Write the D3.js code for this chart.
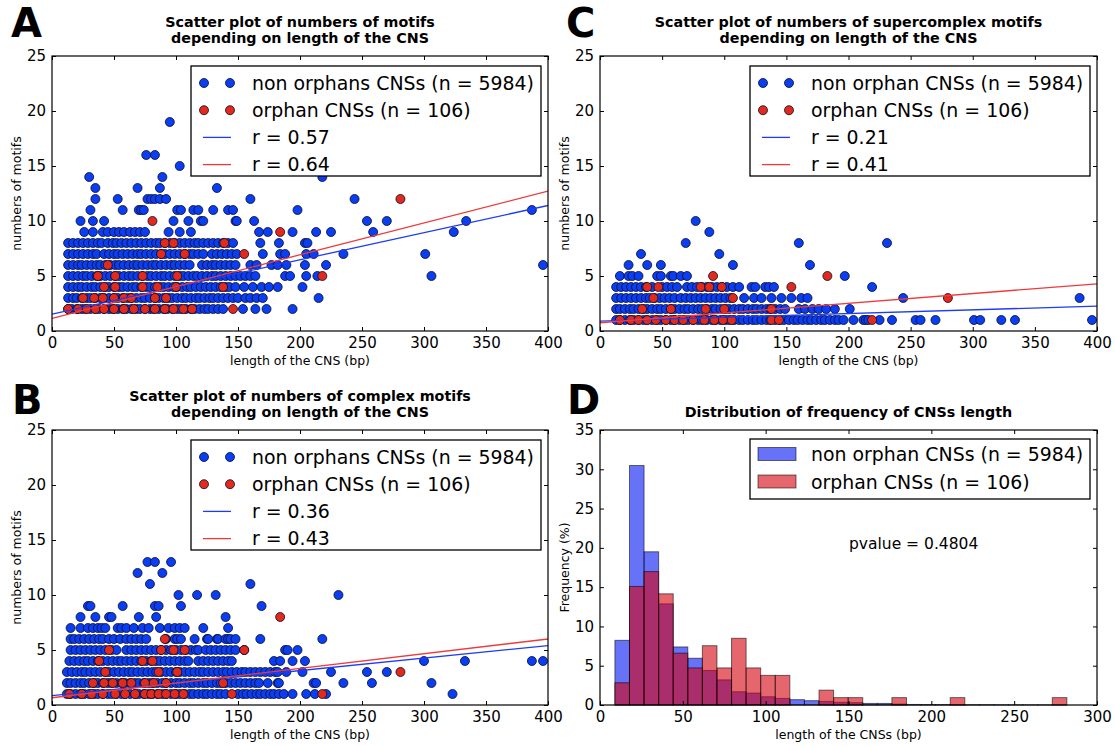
<!DOCTYPE html>
<html><head><meta charset="utf-8">
<script src="https://cdn.jsdelivr.net/npm/d3@7"></script>
<style>
body{margin:0;background:#fff}
svg{display:block}
text{font-family:"DejaVu Sans",sans-serif;fill:#000}
</style></head>
<body><svg id="c" width="1115" height="747"></svg>
<script>
// ---------------- DATA ----------------
// scatter rows: [numberOfMotifs, [lengths...]]
const aBlue = [
 [2,[13,16,20,24,27,31,35,38,42,46,49,53,57,60,64,68,71,75,79,82,86,90,93,97,101,104,108,112,115,119,123,126,130,134,138,154,164,173,194]],
 [3,[13,17,20,24,28,31,35,39,42,46,50,53,57,61,64,68,72,75,79,83,86,90,94,97,101,105,108,112,116,119,123,127,130,134,138,142,146,150,156,160,165,170,215]],
 [4,[13,17,21,24,28,32,35,39,43,46,50,54,57,61,65,68,72,76,79,83,87,90,94,98,101,105,109,112,116,120,124,128,132,136,140,143,148,155,162,169,175,182,202]],
 [5,[13,17,21,25,28,32,36,39,43,47,51,54,58,62,65,69,73,77,80,84,88,91,95,99,103,106,110,114,117,121,125,129,132,136,140,144,148,152,156,160,164,188,192,205,214,306]],
 [6,[13,17,21,24,28,32,36,39,43,47,51,54,58,62,66,69,73,77,81,84,88,92,96,99,103,107,111,121,125,129,132,136,140,144,148,160,165,177,182,189,204,221,396]],
 [7,[13,17,21,25,29,33,36,42,46,50,53,57,61,65,69,72,76,80,84,88,91,95,99,103,107,111,114,118,122,129,133,137,141,145,149,170,184,188,205,211,235,301]],
 [8,[13,17,21,25,29,33,37,40,45,49,52,56,60,64,68,72,76,80,84,87,91,95,99,103,107,111,115,118,122,126,130,134,138,142,146,168,183,204,206]],
 [9,[26,33,41,45,50,54,58,63,67,71,75,94,103,112,167,174,194,213,225,259,324]],
 [10,[23,33,42,98,110,120,122,148,149,163,254,270,334]],
 [11,[31,57,70,72,74,101,104,114,118,130,142,146,198,387]],
 [12,[35,53,77,80,83,87,92,160,244]],
 [13,[35,69,87,133]],
 [14,[30,89,218]],
 [15,[103]],
 [16,[76,83]],
 [19,[95]]
];
const aRed = [
 [2,[13,21,28,35,42,50,58,66,75,83,91,98,106,113,146]],
 [3,[25,34,41,50,58,64,83,92]],
 [4,[42,51,73,85,100,138]],
 [5,[37,51,73,101,218]],
 [6,[45]],
 [7,[88,107,155]],
 [8,[91,98,139]],
 [9,[184]],
 [10,[81]],
 [12,[281]]
];
const bBlue = [
 [1,[12,15,19,23,26,30,34,37,41,45,48,52,56,59,63,67,70,74,78,81,85,89,92,96,100,103,107,111,114,118,122,125,129,133,136,140,150,154,157,161,165,168,172,176,179,183,187,194,205,212,221,323]],
 [2,[12,15,19,23,26,30,34,37,41,45,48,52,56,59,63,67,70,74,78,81,85,89,92,96,100,103,107,111,114,118,122,125,129,133,136,140,144,148,152,156,160,164,167,174,182,183,211,213,235,258,306]],
 [3,[12,16,20,24,27,31,35,39,43,46,50,54,58,62,65,69,73,77,81,84,88,92,96,100,103,107,111,115,119,122,126,130,134,138,141,145,149,153,156,160,164,168,172,176,180,182,189,202,225,254,270]],
 [4,[14,18,22,26,29,33,37,41,45,49,53,56,60,64,68,72,76,80,84,87,91,95,99,103,107,110,118,122,126,130,134,138,142,145,179,184,194,204,300,333,387,396]],
 [5,[15,19,23,27,31,35,39,43,48,52,60,64,68,72,76,80,84,88,92,96,100,104,108,112,116,118,124,128,132,136,140,144,148,155,188,190,198]],
 [6,[15,18,22,26,30,34,38,41,46,50,55,60,64,68,72,76,92,99,101,104,115,125,126,133,134,140,142,144,148,168,218]],
 [7,[15,23,29,33,37,40,43,53,56,60,66,73,78,87,94,99,103,107,122,142]],
 [8,[23,35,46,48,70,84,140]],
 [9,[29,31,57,83,86,104,169]],
 [10,[102,117,132,231]],
 [11,[79,160]],
 [12,[69,89]],
 [13,[77,83,96]]
];
const bRed = [
 [1,[14,24,32,41,51,59,67,75,80,86,92,99,106,145,218]],
 [2,[33,42,49,57,64,75,82,92,138]],
 [3,[43,86,101,281]],
 [4,[38,73,81]],
 [5,[46,88,98,107,155]],
 [6,[91]],
 [8,[184]]
];
const cBlue = [
 [1,[13,16,20,24,27,31,35,38,42,46,49,53,57,60,64,68,71,75,79,82,86,90,93,97,101,104,108,112,115,119,123,126,130,134,137,141,145,148,152,156,159,163,167,170,174,178,181,185,189,192,196,204,212,214,216,225,235,254,258,270,301,306,323,334,396]],
 [2,[13,16,20,24,27,31,35,38,42,46,49,53,57,60,64,68,71,75,79,82,86,90,93,97,101,104,108,112,115,119,123,126,130,134,137,141,145,149,160,165,171,176,182,189,201]],
 [3,[13,17,21,25,29,33,37,40,44,48,52,56,60,65,69,73,77,81,85,89,93,97,101,105,116,124,130,138,146,154,162,167,244,386]],
 [4,[13,17,21,25,29,33,37,42,50,54,58,62,70,74,78,82,86,90,94,98,102,107,112,122,125,133,136,140,219]],
 [5,[16,23,26,31,46,49,57,59,65,70,197]],
 [6,[23,38,49,107,169]],
 [7,[33,96]],
 [8,[69,160,231]],
 [9,[88]],
 [10,[77]]
];
const cRed = [
 [1,[16,25,31,38,45,53,60,67,75,84,92,99,106,138,144,219]],
 [2,[34,57,85,100,138]],
 [3,[43,107,280]],
 [4,[38,47,81,88,98,154]],
 [5,[91,183]]
];
// regression lines: value at length 0 and at length 400
const fitA = {blue:[1.54,11.41], red:[1.15,12.71]};
const fitB = {blue:[0.85,5.40], red:[0.66,6.00]};
const fitC = {blue:[0.90,2.26], red:[0.75,4.29]};
const rA = ["r = 0.57","r = 0.64"];
const rB = ["r = 0.36","r = 0.43"];
const rC = ["r = 0.21","r = 0.41"];

// histogram (panel D)
const binEdges = [9,17.8,26.6,35.4,44.2,53,61.8,70.6,79.4,88.2,97,105.8,114.6,123.4,132.2,141,149.8,158.6,167.4,176.2,185,193.8,202.6,211.4,220.2,229,237.8,246.6,255.4,264.2,273,281.8];
const freqNonOrphan = [8.23,30.48,19.5,12.87,7.39,5.95,4.39,3.2,1.69,1.52,1.05,0.84,0.68,0.55,0.46,0.34,0.3,0.2,0.2,0.12,0.07,0.06,0.06,0.05,0.04,0.04,0.03,0.03,0.02,0.02,0.02];
const freqOrphan = [2.83,15.09,16.98,14.15,6.6,4.72,7.55,4.72,8.49,4.72,3.77,3.77,0,0,1.89,0.94,0.94,0,0,0.94,0,0,0,0.94,0,0,0,0,0,0,0.94];

const scatterXTicks = [0,50,100,150,200,250,300,350,400];
const scatterYTicks = [0,5,10,15,20,25];
const histXTicks = [0,50,100,150,200,250,300];
const histYTicks = [0,5,10,15,20,25,30,35];

// ---------------- DRAWING ----------------
const svg = d3.select("#c");
const BLUE = "#0a3ef2", RED = "#e22a1c";
const LBLUE = "#1d3cf5", LRED = "#ee3a3a";

function axes(g, x, y, xt, yt){
  const [x0,x1] = x.range(), [y0,y1] = y.range();
  const w = x1-x0, h = y0-y1;
  const tick = (ax)=> ax.tickSizeOuter(0);
  const bottom = g.append("g").attr("transform",`translate(0,${y0})`)
    .call(tick(d3.axisBottom(x).tickValues(xt).tickSizeInner(-4).tickPadding(6).tickFormat(d3.format("d"))));
  const top = g.append("g").attr("transform",`translate(0,${y1})`)
    .call(tick(d3.axisTop(x).tickValues(xt).tickSizeInner(-4).tickFormat("")));
  const left = g.append("g").attr("transform",`translate(${x0},0)`)
    .call(tick(d3.axisLeft(y).tickValues(yt).tickSizeInner(-4).tickPadding(6).tickFormat(d3.format("d"))));
  const right = g.append("g").attr("transform",`translate(${x1},0)`)
    .call(tick(d3.axisRight(y).tickValues(yt).tickSizeInner(-4).tickFormat("")));
  [bottom,top,left,right].forEach(a=>{
    a.select(".domain").remove();
    a.selectAll("line").attr("stroke","#000").attr("stroke-width",1);
    a.selectAll("text").attr("font-size",15).attr("font-family",'"DejaVu Sans",sans-serif').attr("fill","#111");
  });
  g.append("rect").attr("x",x0).attr("y",y1).attr("width",w).attr("height",h)
    .attr("fill","none").attr("stroke","#000").attr("stroke-width",1.2);
}

function labels(g, x, y, title, xlab, ylab, letter, letterPos){
  const [x0,x1] = x.range(), [y0,y1] = y.range();
  const cx = (x0+x1)/2;
  title.forEach((t,i)=>{
    g.append("text").attr("x",cx).attr("y",y1 - 13 - (title.length-1-i)*16.5)
      .attr("text-anchor","middle").attr("font-weight","bold").attr("font-size",14.3).text(t);
  });
  g.append("text").attr("x",cx).attr("y",y0+34).attr("text-anchor","middle").attr("font-size",12.5).text(xlab);
  g.append("text").attr("transform",`translate(${x0-31},${(y0+y1)/2}) rotate(-90)`)
    .attr("text-anchor","middle").attr("font-size",12.5).text(ylab);
  g.append("text").attr("x",letterPos[0]).attr("y",letterPos[1]).attr("font-weight","bold")
    .attr("font-size",40).text(letter);
}

let clipId = 0;
function scatterPanel(cfg){
  const g = svg.append("g");
  const x = d3.scaleLinear().domain([0,400]).range([cfg.left,cfg.right]);
  const y = d3.scaleLinear().domain([0,25]).range([cfg.bottom,cfg.top]);
  const id = "clip"+(clipId++);
  g.append("clipPath").attr("id",id).append("rect")
    .attr("x",cfg.left).attr("y",cfg.top).attr("width",cfg.right-cfg.left).attr("height",cfg.bottom-cfg.top);
  const pl = g.append("g").attr("clip-path",`url(#${id})`);
  const flat = rows => rows.flatMap(([v,xs])=>xs.map(l=>({l,v})));
  [[cfg.blue,BLUE],[cfg.red,RED]].forEach(([rows,col])=>{
    pl.selectAll(null).data(flat(rows)).enter().append("circle")
      .attr("cx",d=>x(d.l)).attr("cy",d=>y(d.v)).attr("r",4.5)
      .attr("fill",col).attr("stroke","#0a0a2a").attr("stroke-width",0.8);
  });
  [[cfg.fit.blue,LBLUE],[cfg.fit.red,LRED]].forEach(([f,col])=>{
    pl.append("line").attr("x1",x(0)).attr("y1",y(f[0])).attr("x2",x(400)).attr("y2",y(f[1]))
      .attr("stroke",col).attr("stroke-width",1.3);
  });
  axes(g,x,y,scatterXTicks,scatterYTicks);
  labels(g,x,y,cfg.title,"length of the CNS (bp)","numbers of motifs",cfg.letter,cfg.letterPos);
  // legend
  const L = cfg.legend;
  const lg = g.append("g");
  lg.append("rect").attr("x",L.x).attr("y",L.y).attr("width",L.w).attr("height",L.h)
    .attr("fill","#fff").attr("stroke","#000").attr("stroke-width",1.3);
  const rowY = [0,1,2,3].map(i=>L.y+17+i*27.2);
  [[0,BLUE],[1,RED]].forEach(([i,col])=>{
    [L.mx, L.mx+26].forEach(mx=>lg.append("circle").attr("cx",mx).attr("cy",rowY[i]).attr("r",4.5)
      .attr("fill",col).attr("stroke","#0a0a2a").attr("stroke-width",0.8));
  });
  [[2,LBLUE],[3,LRED]].forEach(([i,col])=>{
    lg.append("line").attr("x1",L.mx-1).attr("x2",L.mx+27).attr("y1",rowY[i]).attr("y2",rowY[i])
      .attr("stroke",col).attr("stroke-width",1.3);
  });
  cfg.legendText.forEach((t,i)=>{
    lg.append("text").attr("x",L.tx).attr("y",rowY[i]+6.5).attr("font-size",18.9).text(t);
  });
}

scatterPanel({left:52,right:548,top:56,bottom:331,blue:aBlue,red:aRed,fit:fitA,
  title:["Scatter plot of numbers of motifs","depending on length of the CNS"],letter:"A",letterPos:[11,37],
  legend:{x:191,y:66,w:350,h:110,mx:204,tx:252},
  legendText:["non orphans CNSs (n = 5984)","orphan CNSs (n = 106)",rA[0],rA[1]]});
scatterPanel({left:600,right:1097,top:56,bottom:331,blue:cBlue,red:cRed,fit:fitC,
  title:["Scatter plot of numbers of supercomplex motifs","depending on length of the CNS"],letter:"C",letterPos:[566,37],
  legend:{x:750,y:66,w:340,h:110,mx:763,tx:811},
  legendText:["non orphan CNSs (n = 5984)","orphan CNSs (n = 106)",rC[0],rC[1]]});
scatterPanel({left:52,right:548,top:430,bottom:705,blue:bBlue,red:bRed,fit:fitB,
  title:["Scatter plot of numbers of complex motifs","depending on length of the CNS"],letter:"B",letterPos:[12,414],
  legend:{x:191,y:440,w:350,h:110,mx:204,tx:252},
  legendText:["non orphans CNSs (n = 5984)","orphan CNSs (n = 106)",rB[0],rB[1]]});

// ---- histogram D ----
(function(){
  const g = svg.append("g");
  const x = d3.scaleLinear().domain([0,300]).range([600,1097]);
  const y = d3.scaleLinear().domain([0,35]).range([705,430]);
  const bins = freqNonOrphan.map((v,i)=>({x0:binEdges[i],x1:binEdges[i+1],b:v,r:freqOrphan[i]}));
  const BF = "rgb(0,22,245)", RF = "rgb(214,0,12)";
  g.selectAll(null).data(bins).enter().append("rect")
    .attr("x",d=>x(d.x0)).attr("width",d=>x(d.x1)-x(d.x0))
    .attr("y",d=>y(d.b)).attr("height",d=>y(0)-y(d.b))
    .attr("fill",BF).attr("fill-opacity",0.6).attr("stroke","#000").attr("stroke-opacity",0.55).attr("stroke-width",1);
  g.selectAll(null).data(bins.filter(d=>d.r>0)).enter().append("rect")
    .attr("x",d=>x(d.x0)).attr("width",d=>x(d.x1)-x(d.x0))
    .attr("y",d=>y(d.r)).attr("height",d=>y(0)-y(d.r))
    .attr("fill",RF).attr("fill-opacity",0.6).attr("stroke","#000").attr("stroke-opacity",0.55).attr("stroke-width",1);
  axes(g,x,y,histXTicks,histYTicks);
  labels(g,x,y,["Distribution of frequency of CNSs length"],"length of the CNSs (bp)","Frequency (%)","D",[567,414]);
  g.append("text").attr("x",849).attr("y",549).attr("font-size",15.5).text("pvalue = 0.4804");
  const lg = g.append("g");
  lg.append("rect").attr("x",750).attr("y",439).attr("width",340).attr("height",60)
    .attr("fill","#fff").attr("stroke","#000").attr("stroke-width",1.3);
  [["non orphan CNSs (n = 5984)",BF,447.5],["orphan CNSs (n = 106)",RF,475]].forEach(([t,c,py])=>{
    lg.append("rect").attr("x",758).attr("y",py).attr("width",38).attr("height",13)
      .attr("fill",c).attr("fill-opacity",0.6).attr("stroke","#000").attr("stroke-opacity",0.55);
    lg.append("text").attr("x",811).attr("y",py+13.5).attr("font-size",18.9).text(t);
  });
})();
</script></body></html>
